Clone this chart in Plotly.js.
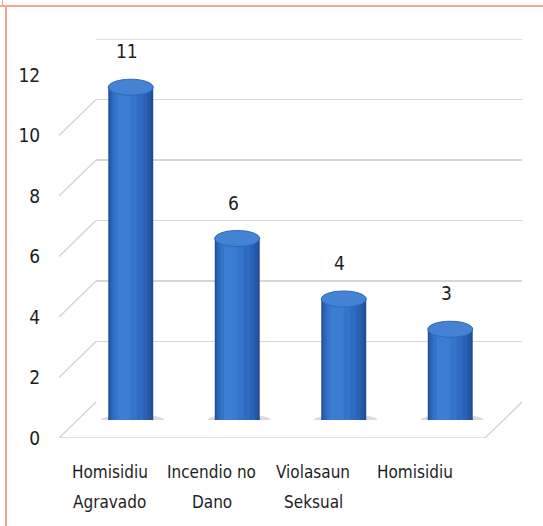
<!DOCTYPE html>
<html>
<head>
<meta charset="utf-8">
<script src="https://cdn.plot.ly/plotly-3.0.1.min.js"></script>
<style>
  html, body { margin: 0; padding: 0; background: #ffffff; }
  #chart { width: 543px; height: 526px; }
  .frame { position: absolute; pointer-events: none; background: #e9a898; z-index: 10; }
</style>
</head>
<body>
<div id="chart"></div>
<div class="frame" style="left:0;top:5px;width:543px;height:2px;"></div>
<div class="frame" style="left:5px;top:7px;width:2px;height:519px;"></div>
<div class="frame" style="left:2px;top:0;width:1px;height:5px;"></div>
<script>
// ---- data ----
const categories = ["Homisidiu Agravado", "Incendio no Dano", "Violasaun Seksual", "Homisidiu"];
const labelLine1 = ["Homisidiu", "Incendio no", "Violasaun", "Homisidiu"];
const labelLine2 = ["Agravado", "Dano", "Seksual", ""];
const values = [11, 6, 4, 3];
const yTicks = [0, 2, 4, 6, 8, 10, 12];

// ---- geometry (pixels) ----
const W = 543, H = 526;
const M = { l: 59, r: 21, t: 39, b: 88 };
const PW = W - M.l - M.r;   // 463
const PH = H - M.t - M.b;   // 399
const DX = 37, DY = 36;     // depth offset front -> back
const FRONT_W = 426, FRONT_H = 363;
const LABEL_W = 406.7;

const FONT = '"Liberation Sans Narrow", "DejaVu Sans Condensed", "Arial Narrow", "Open Sans", sans-serif';
const GRID = '#d6d6d6';

const idx = categories.map((c, i) => i);

// cylinder shading layers (overlayed bars)
const shades = [
  { off: -0.211, w: 0.422, c: '#1f4e95' },
  { off: -0.202, w: 0.392, c: '#2558a6' },
  { off: -0.192, w: 0.352, c: '#2a62b5' },
  { off: -0.175, w: 0.292, c: '#2f6bc1' },
  { off: -0.155, w: 0.215, c: '#3474c9' },
  { off: -0.125, w: 0.125, c: '#3a7dd1' }
];

const traces = [];
// back wall subplot (gridlines only)
traces.push({ type: 'scatter', x: [0], y: [0], xaxis: 'x', yaxis: 'y', mode: 'markers',
  marker: { opacity: 0 }, hoverinfo: 'skip', showlegend: false });
// cylinders on the middle plane
shades.forEach(s => {
  traces.push({
    type: 'bar', x: idx, y: values, xaxis: 'x2', yaxis: 'y2',
    width: s.w, offset: s.off, marker: { color: s.c, line: { width: 0 } },
    hoverinfo: 'skip', showlegend: false
  });
});
// front plane (tick labels)
traces.push({ type: 'scatter', x: idx, y: idx.map(() => 0), xaxis: 'x3', yaxis: 'y3', mode: 'markers',
  marker: { opacity: 0 }, hoverinfo: 'skip', showlegend: false });

const shapes = [];
// slanted depth lines for each tick
yTicks.forEach(v => {
  shapes.push({ type: 'line', xref: 'paper', x0: 0, x1: DX / PW,
    yref: 'y3', ysizemode: 'pixel', yanchor: v, y0: 0, y1: DY,
    line: { color: GRID, width: 1.5 }, layer: 'below' });
});
// top back gridline (range edge)
shapes.push({ type: 'line', xref: 'paper', x0: DX / PW, x1: 1, yref: 'y', y0: yTicks[yTicks.length - 1],
  y1: yTicks[yTicks.length - 1], line: { color: GRID, width: 1.5 }, layer: 'below' });
// floor front edge and right edge
shapes.push({ type: 'line', xref: 'paper', x0: 0, x1: FRONT_W / PW, yref: 'y3', y0: 0, y1: 0,
  line: { color: GRID, width: 1.5 }, layer: 'below' });
shapes.push({ type: 'line', xref: 'paper', x0: FRONT_W / PW, x1: 1,
  yref: 'y3', ysizemode: 'pixel', yanchor: 0, y0: 0, y1: DY,
  line: { color: GRID, width: 1.5 }, layer: 'below' });

values.forEach((v, i) => {
  // shadow
  shapes.push({ type: 'circle', xref: 'x2', xsizemode: 'pixel', xanchor: i, x0: -30, x1: 34,
    yref: 'y2', ysizemode: 'pixel', yanchor: 0, y0: -7, y1: 6,
    fillcolor: 'rgba(90,90,90,0.22)', line: { width: 0 }, layer: 'below' });
  // bottom ellipse
  shapes.push({ type: 'circle', xref: 'x2', xsizemode: 'pixel', xanchor: i, x0: -22.5, x1: 22.5,
    yref: 'y2', ysizemode: 'pixel', yanchor: 0, y0: -8, y1: 8,
    fillcolor: '#244f94', line: { width: 0 }, layer: 'below' });
  // top ellipse
  shapes.push({ type: 'circle', xref: 'x2', xsizemode: 'pixel', xanchor: i, x0: -22.5, x1: 22.5,
    yref: 'y2', ysizemode: 'pixel', yanchor: v, y0: -8, y1: 8,
    fillcolor: '#4483d3', line: { color: '#2f68b8', width: 1 }, layer: 'above' });
});

const annotations = [];
values.forEach((v, i) => {
  annotations.push({ xref: 'x2', yref: 'y2', x: i, y: v, text: String(v), showarrow: false,
    xshift: -4, yshift: 36, font: { family: FONT, size: 19, color: '#1e1e1e' } });
});
categories.forEach((c, i) => {
  annotations.push({ xref: 'x3', yref: 'paper', x: i, y: 0, text: labelLine1[i], showarrow: false,
    yanchor: 'middle', yshift: -34, font: { family: FONT, size: 17, color: '#1e1e1e' } });
  if (labelLine2[i]) {
    annotations.push({ xref: 'x3', yref: 'paper', x: i, y: 0, text: labelLine2[i], showarrow: false,
      yanchor: 'middle', yshift: -64, font: { family: FONT, size: 17, color: '#1e1e1e' } });
  }
});

const hidden = { showgrid: false, zeroline: false, showline: false, showticklabels: false, ticks: '' };

const layout = {
  width: W, height: H,
  margin: M,
  paper_bgcolor: '#ffffff',
  plot_bgcolor: 'rgba(0,0,0,0)',
  showlegend: false,
  barmode: 'overlay',
  font: { family: FONT, size: 19, color: '#1e1e1e' },
  xaxis: Object.assign({}, hidden, { domain: [DX / PW, 1], range: [0, 1], anchor: 'y', fixedrange: true }),
  yaxis: { domain: [DY / PH, 1], range: [0, 12], dtick: 2, tick0: 0, showgrid: true, gridcolor: GRID,
    gridwidth: 1.5, zeroline: false, showline: false, showticklabels: false, ticks: '', anchor: 'x', fixedrange: true },
  xaxis2: Object.assign({}, hidden, { domain: [(DX / 2) / PW, (FRONT_W + DX / 2) / PW], range: [-0.5, 3.5],
    anchor: 'y2', fixedrange: true }),
  yaxis2: Object.assign({}, hidden, { domain: [(DY / 2) / PH, (FRONT_H + DY / 2) / PH], range: [0, 12],
    anchor: 'x2', fixedrange: true }),
  xaxis3: Object.assign({}, hidden, { domain: [0, LABEL_W / PW], range: [-0.5, 3.5], anchor: 'y3', fixedrange: true }),
  yaxis3: { domain: [0, FRONT_H / PH], range: [0, 12], tickmode: 'array', tickvals: yTicks,
    ticktext: yTicks.map(String), showgrid: false, zeroline: false, showline: false,
    ticks: 'outside', ticklen: 14, tickcolor: 'rgba(0,0,0,0)', anchor: 'x3', fixedrange: true,
    tickfont: { family: FONT, size: 19, color: '#1e1e1e' } },
  shapes: shapes,
  annotations: annotations
};

Plotly.newPlot('chart', traces, layout, { displayModeBar: false, staticPlot: true });
</script>
</body>
</html>
